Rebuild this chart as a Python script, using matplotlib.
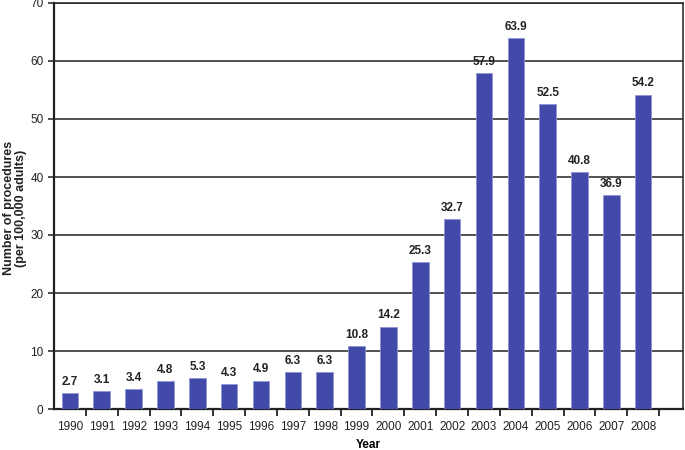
import numpy as np
import matplotlib.pyplot as plt

plt.rcParams['font.family'] = ['Liberation Sans', 'DejaVu Sans']

years = [str(y) for y in range(1990, 2009)]
values = [2.7, 3.1, 3.4, 4.8, 5.3, 4.3, 4.9, 6.3, 6.3, 10.8, 14.2,
          25.3, 32.7, 57.9, 63.9, 52.5, 40.8, 36.9, 54.2]

fig = plt.figure(figsize=(6.85, 4.5), dpi=100)
ax = fig.add_axes([54 / 685, 41 / 450, 629 / 685, 406 / 450])

x = np.arange(len(years))
ax.bar(x, values, width=0.52, color='#4249a8', edgecolor='#8f94d6', linewidth=0.6, zorder=3)
for xi, v in zip(x, values):
    ax.text(xi, v + 0.9, f"{v}", ha='center', va='bottom', fontsize=8.5, fontweight='bold', color='#222222')

ax.set_xlim(-0.5, 19.25)
ax.set_ylim(0, 70)
ax.set_yticks(range(0, 71, 10))
ax.yaxis.grid(True, color='#222222', linewidth=1.1, zorder=0)
ax.set_axisbelow(True)

ax.set_xticks(x)
ax.set_xticklabels(years)
ax.tick_params(axis='x', length=0, labelsize=8.5, pad=9, colors='#222222')
ax.set_xticks(np.arange(0.5, 19, 1), minor=True)
ax.tick_params(axis='x', which='minor', length=5, width=1.3, direction='out', color='#222222')
ax.tick_params(axis='y', length=4, width=1.1, labelsize=8.5, colors='#222222')

for s in ['left', 'bottom']:
    ax.spines[s].set_linewidth(1.6)
for s in ['top', 'right']:
    ax.spines[s].set_linewidth(1.1)
for s in ax.spines.values():
    s.set_color('#222222')

ax.set_xlabel('Year', fontsize=8.5, fontweight='bold', labelpad=4)
fig.text(15 / 685, 1 - 208 / 450, 'Number of procedures\n(per 100,000 adults)', rotation=90,
         ha='center', va='center', multialignment='center', linespacing=1.1,
         fontsize=9, fontweight='bold', color='#222222')

fig.savefig('out.png', dpi=100)
